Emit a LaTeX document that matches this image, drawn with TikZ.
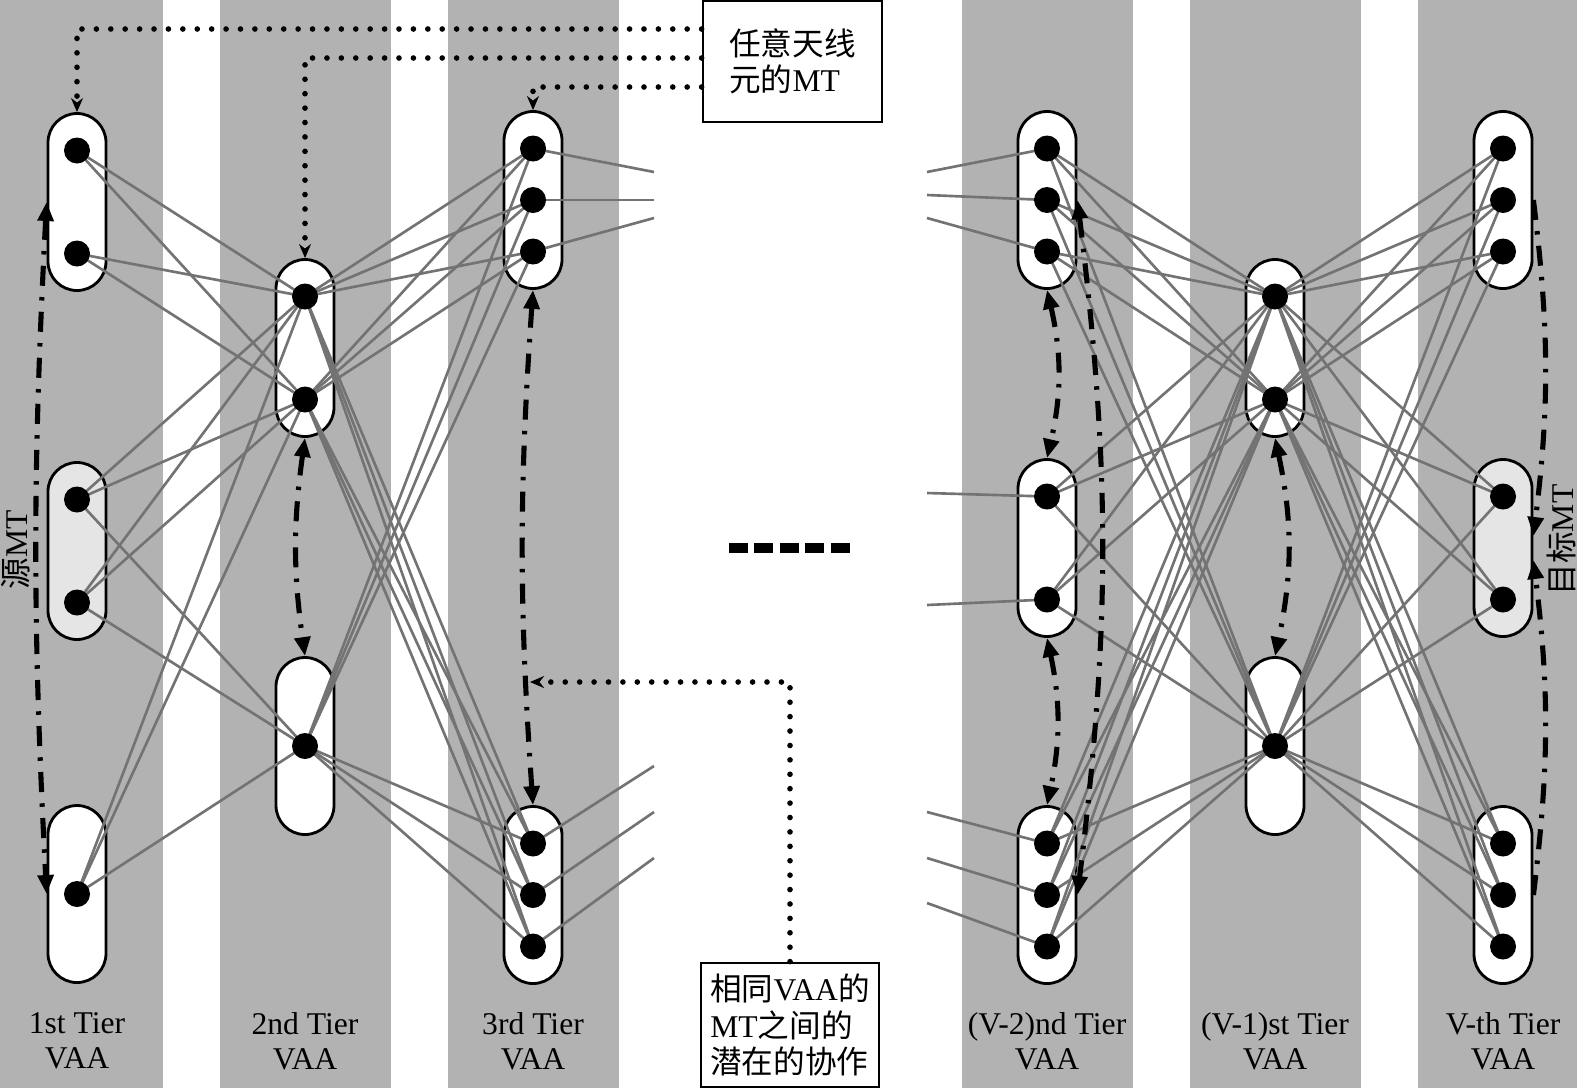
\documentclass[tikz,border=0pt]{standalone}
\usepackage{fontspec}
\setmainfont{Liberation Serif}
\newfontfamily\cjk{Noto Sans CJK SC}
\usetikzlibrary{arrows.meta}
\pgfdeclarelayer{back}
\pgfdeclarelayer{wires}
\pgfsetlayers{back,wires,main}

\begin{document}
\begin{tikzpicture}[
  x=1cm, y=1cm,
  band/.style={fill=black!30},
  vaa/.style={rectangle, draw, line width=0.8pt, fill=white,
              rounded corners=2.9mm, minimum width=5.8mm,
              minimum height=17.7mm, inner sep=0pt},
  endvaa/.style={vaa, fill=black!10},
  mt/.style={circle, fill=black, minimum size=2.6mm, inner sep=0pt},
  link/.style={black!55, line width=0.75pt},
  coop/.style={line width=1.45pt,
               dash pattern=on 5.7pt off 3.2pt on 1pt off 3.2pt,
               >={Triangle[length=5.4pt, width=4.4pt]}},
  leader/.style={line width=1.6pt, line cap=round,
                 dash pattern=on 0pt off 4.1pt,
                 -{Stealth[length=4pt, width=3.4pt]}},
  note/.style={rectangle, draw, line width=0.8pt, fill=white,
               align=left, inner sep=0pt,
               font=\fontsize{9}{10.4}\selectfont},
  tier/.style={align=center, font=\fontsize{9}{10}\selectfont},
  side/.style={rotate=90, font=\fontsize{9}{10}\selectfont},
  gap/.style={line width=2.6pt, dash pattern=on 5.4pt off 1.85pt},
]
\useasboundingbox (0,0) rectangle (15.77,-10.88);

\begin{pgfonlayer}{back}
% Grey bands, one per tier
\fill[white] (0,0) rectangle (15.77,-10.88);
\begin{scope}
  \clip (0,0) rectangle (15.77,-10.88);
  \foreach \cx in {0.77,3.05,5.33,10.47,12.75,15.03}
    \fill[band] (\cx-0.855,0) rectangle (\cx+0.855,-10.88);
\end{scope}

% VAA capsules
\node[vaa]    at ( 0.77,-2.02) (t1a) {};
\node[endvaa] at ( 0.77,-5.51) (t1b) {};
\node[vaa]    at ( 0.77,-8.94) (t1c) {};
\node[vaa]    at ( 3.05,-3.48) (t2a) {};
\node[vaa]    at ( 3.05,-7.46) (t2b) {};
\node[vaa]    at ( 5.33,-2.00) (t3a) {};
\node[vaa]    at ( 5.33,-8.95) (t3b) {};
\node[vaa]    at (10.47,-2.00) (v2a) {};
\node[vaa]    at (10.47,-5.48) (v2b) {};
\node[vaa]    at (10.47,-8.95) (v2c) {};
\node[vaa]    at (12.75,-3.48) (v1a) {};
\node[vaa]    at (12.75,-7.46) (v1b) {};
\node[vaa]    at (15.03,-2.00) (va)  {};
\node[endvaa] at (15.03,-5.48) (vb)  {};
\node[vaa]    at (15.03,-8.95) (vc)  {};
\end{pgfonlayer}

% MTs inside the capsules
\foreach \p in {t1a,t1b,t2a,v2b,v1a,vb} {
  \node[mt] at ([yshift=5.15mm]\p.center)  (\p1) {};
  \node[mt] at ([yshift=-5.15mm]\p.center) (\p2) {};
}
\foreach \p in {t3a,t3b,v2a,v2c,va,vc} {
  \node[mt] at ([yshift=5.15mm]\p.center)  (\p1) {};
  \node[mt] at (\p.center)                 (\p2) {};
  \node[mt] at ([yshift=-5.15mm]\p.center) (\p3) {};
}
\foreach \p in {t1c,t2b,v1b}
  \node[mt] at (\p.center) (\p1) {};

% Loose ends towards the gap
\coordinate (o1) at (6.54,-1.72);  \coordinate (i1) at (9.27,-1.72);
\coordinate (o2) at (6.54,-2.00);  \coordinate (i2) at (9.27,-1.95);
\coordinate (o3) at (6.54,-2.18);  \coordinate (i3) at (9.27,-2.18);
\coordinate (o4) at (6.54,-7.66);  \coordinate (i4) at (9.27,-4.93);
\coordinate (o5) at (6.54,-8.12);  \coordinate (i5) at (9.27,-6.05);
\coordinate (o6) at (6.54,-8.58);  \coordinate (i6) at (9.27,-8.12);
                                   \coordinate (i7) at (9.27,-8.58);
                                   \coordinate (i8) at (9.27,-9.03);

\begin{pgfonlayer}{wires}
% Tier 1 -> tier 2
\foreach \a/\b in {t1a1/t2a1, t1a1/t2a2, t1a2/t2a1, t1a2/t2a2,
                   t1b1/t2a1, t1b1/t2a2, t1b1/t2b1,
                   t1b2/t2a1, t1b2/t2a2, t1b2/t2b1,
                   t1c1/t2a1, t1c1/t2a2, t1c1/t2b1}
  \draw[link] (\a.center) -- (\b.center);
% Tier 2 -> tier 3
\foreach \a in {t2a1,t2a2,t2b1}
  \foreach \b in {t3a1,t3a2,t3a3,t3b1,t3b2,t3b3}
    \draw[link] (\a.center) -- (\b.center);
% Stubs across the gap
\foreach \a/\b in {t3a1/o1, t3a2/o2, t3a3/o3, t3b1/o4, t3b2/o5, t3b3/o6,
                   v2a1/i1, v2a2/i2, v2a3/i3, v2b1/i4, v2b2/i5,
                   v2c1/i6, v2c2/i7, v2c3/i8}
  \draw[link] (\a.center) -- (\b);
% Tier V-2 -> tier V-1
\foreach \a in {v2a1,v2a2,v2a3,v2b1,v2b2,v2c1,v2c2,v2c3}
  \foreach \b in {v1a1,v1a2,v1b1}
    \draw[link] (\a.center) -- (\b.center);
% Tier V-1 -> tier V
\foreach \a in {v1a1,v1a2,v1b1}
  \foreach \b in {va1,va2,va3,vb1,vb2,vc1,vc2,vc3}
    \draw[link] (\a.center) -- (\b.center);
\end{pgfonlayer}

% Cooperation between MTs of the same VAA
\draw[coop, <->] (t1a.west)  to[bend right=3]  (t1c.west);
\draw[coop, <->] (t2a.south) to[bend right=8]  (t2b.north);
\draw[coop, <->] (t3a.south) to[bend right=4]  (t3b.north);
\draw[coop, <->] (v2a.south) to[bend left=13]  (v2b.north);
\draw[coop, <->] (v2b.south) to[bend left=12]  (v2c.north);
\draw[coop, <->] (v2a.east)  to[bend left=7]   (v2c.east);
\draw[coop, <->] (v1a.south) to[bend left=12]  (v1b.north);
\draw[coop, ->]  (va.east)   to[bend left=7]   ([yshift=1.2mm]vb.east);
\draw[coop, ->]  (vc.east)   to[bend right=7]  ([yshift=-1.2mm]vb.east);

% Tiers left out
\draw[gap] (7.29,-5.48) -- (8.50,-5.48);

% Notes with their leaders
\node[note, minimum width=17.9mm, minimum height=12.1mm] at (7.925,-0.615) (anymt)
  {{\cjk 任意天线}\\{\cjk 元的}MT};
\node[note, minimum width=17.8mm, minimum height=12.4mm] at (7.90,-10.25) (samevaa)
  {{\cjk 相同}VAA{\cjk 的}\\MT{\cjk 之间的}\\{\cjk 潜在的协作}};
\coordinate (t3mid) at (5.30,-6.82);

\draw[leader] ([yshift=3.25mm]anymt.west)  -| (t1a.north);
\draw[leader] ([yshift=0.35mm]anymt.west)  -| (t2a.north);
\draw[leader] ([yshift=-2.55mm]anymt.west) -| (t3a.north);
\draw[leader] (samevaa.north) |- (t3mid);

% Source and target
\node[side] at (0.16,-5.50)  (srcmt) {{\cjk 源}MT};
\node[side] at (15.61,-5.40) (dstmt) {{\cjk 目标}MT};

% Tier labels
\node[tier] at ( 0.77,-10.41) (tier1)  {1st Tier\\VAA};
\node[tier] at ( 3.05,-10.41) (tier2)  {2nd Tier\\VAA};
\node[tier] at ( 5.33,-10.41) (tier3)  {3rd Tier\\VAA};
\node[tier] at (10.47,-10.41) (tierv2) {(V-2)nd Tier\\VAA};
\node[tier] at (12.75,-10.41) (tierv1) {(V-1)st Tier\\VAA};
\node[tier] at (15.03,-10.41) (tierv)  {V-th Tier\\VAA};
\end{tikzpicture}
\end{document}
